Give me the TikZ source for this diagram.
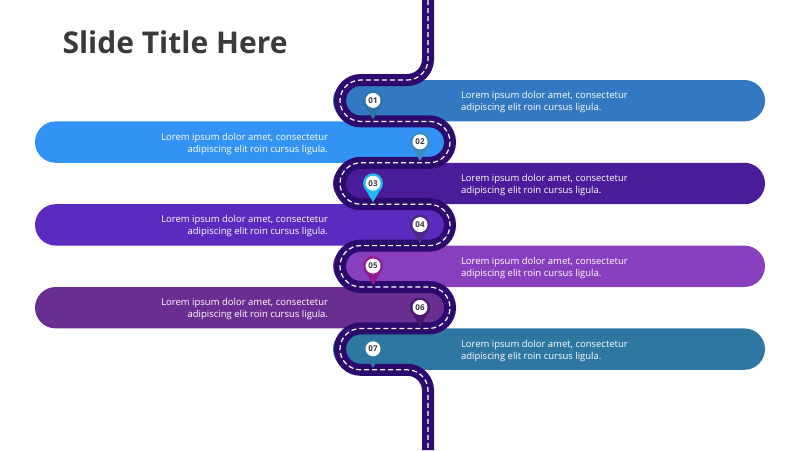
\documentclass[tikz,border=0pt]{standalone}
\usepackage{fontspec}
\setmainfont{Open Sans}
\usetikzlibrary{positioning}
\definecolor{roadfill}{HTML}{2C0A6E}
\definecolor{titlegray}{HTML}{3A3A3A}
\definecolor{barA}{HTML}{3279C2}
\definecolor{barB}{HTML}{3393F5}
\definecolor{barC}{HTML}{4A1C9A}
\definecolor{barD}{HTML}{5B2ABE}
\definecolor{barE}{HTML}{873FBE}
\definecolor{barF}{HTML}{6A2E92}
\definecolor{barG}{HTML}{2E77A3}
\definecolor{pinA}{HTML}{2E73A8}
\definecolor{pinB}{HTML}{3A8DBE}
\definecolor{pinC}{HTML}{1DB8EC}
\definecolor{pinD}{HTML}{4A2A86}
\definecolor{pinE}{HTML}{921C8E}
\definecolor{pinF}{HTML}{4A1A6C}
\definecolor{pinG}{HTML}{2E78A0}
\tikzset{
    bar/.style={
        rectangle, rounded corners=20.7pt, minimum height=41.4pt, inner sep=0pt
    },
    rightbar/.style={bar, minimum width=432pt},
    leftbar/.style={bar, minimum width=420pt},
    bartext/.style={
        text=white, font=\fontsize{9.5}{12}\selectfont, inner sep=0pt
    },
    road/.style={draw=roadfill, line width=12pt, rounded corners=20.7pt},
    roadline/.style={draw=white, line width=1.2pt, dash pattern=on 5pt off 3pt, rounded corners=20.7pt},
    pinlabel/.style={
        circle, fill=white, minimum size=15pt, inner sep=0pt,
        font=\fontsize{8}{8}\selectfont\bfseries, text=titlegray
    }
}
\newcommand{\roadpath}{(428,0) -- (428,80) -- (340,80) -- (340,121.4) -- (450,121.4) -- (450,162.8) -- (340,162.8) -- (340,204.2) -- (450,204.2) -- (450,245.6) -- (340,245.6) -- (340,287) -- (450,287) -- (450,328.4) -- (340,328.4) -- (340,369.8) -- (428,369.8) -- (428,450)}
\begin{document}
\begin{tikzpicture}[x=1pt,y=-1pt]
\useasboundingbox (0,0) rectangle (800,450);

% Title
\node[anchor=west, font=\fontsize{30}{34}\selectfont\bfseries, text=titlegray] (title) at (59,42) {Slide Title Here};

% Bars with text
\foreach \row/\col in {1/barA,3/barC,5/barE,7/barG} {
    \node[rightbar, fill=\col] (bar\row) at (549,{80+41.4*(\row-1)+20.7}) {};
    \node[bartext, anchor=west, align=left] (txt\row) at ([xshift=128pt,yshift=-1.5pt]bar\row.west) {Lorem ipsum dolor amet, consectetur\\adipiscing elit roin cursus ligula.};
}
\foreach \row/\col in {2/barB,4/barD,6/barF} {
    \node[leftbar, fill=\col] (bar\row) at (245,{80+41.4*(\row-1)+20.7}) {};
    \node[bartext, anchor=east, align=right] (txt\row) at ([xshift=-127pt,yshift=-1.5pt]bar\row.east) {Lorem ipsum dolor amet, consectetur\\adipiscing elit roin cursus ligula.};
}

% Road
\draw[road] \roadpath;
\draw[roadline] \roadpath;

% Pins
\foreach \num/\x/\col [count=\i] in {01/373/pinA,02/420/pinB,03/373/pinC,04/420/pinD,05/373/pinE,06/420/pinF,07/373/pinG} {
    \coordinate (pin\num) at (\x,{80+41.4*\i-2});
    \fill[\col] ([yshift=19pt]pin\num) circle (10pt);
    \fill[\col] ([xshift=-8.3pt,yshift=14pt]pin\num) -- (pin\num) -- ([xshift=8.3pt,yshift=14pt]pin\num) -- cycle;
    \node[pinlabel] (mark\num) at ([yshift=19pt]pin\num) {\num};
}

\end{tikzpicture}
\end{document}
